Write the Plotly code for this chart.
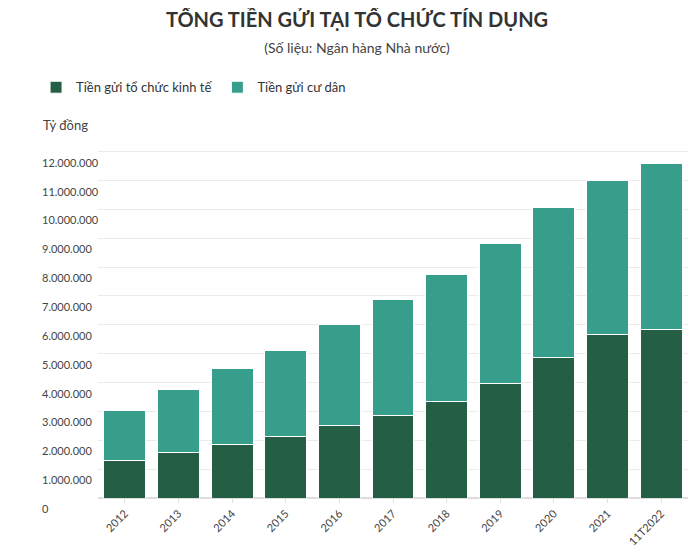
import plotly.graph_objects as go

years = ["2012", "2013", "2014", "2015", "2016", "2017", "2018", "2019", "2020", "2021", "11T2022"]
to_chuc = [1300000, 1570000, 1870000, 2130000, 2500000, 2870000, 3330000, 3970000, 4870000, 5670000, 5830000]
tong = [3030000, 3770000, 4470000, 5100000, 6000000, 6870000, 7730000, 8830000, 10070000, 11000000, 11600000]
dan_cu = [t - o for t, o in zip(tong, to_chuc)]
tick_vals = list(range(0, 12000001, 1000000))

fig = go.Figure()
fig.add_trace(go.Bar(x=years, y=to_chuc, name="Tiền gửi tổ chức kinh tế",
                     marker=dict(color="#235e45", line=dict(color="white", width=1))))
fig.add_trace(go.Bar(x=years, y=dan_cu, name="Tiền gửi cư dân",
                     marker=dict(color="#379e8c", line=dict(color="white", width=1))))

for v in tick_vals:
    fig.add_annotation(x=0, xref="paper", xanchor="left", y=v, yref="y", yanchor="top",
                       xshift=-58, yshift=-2,
                       text="0" if v == 0 else f"{v:,}".replace(",", "."),
                       showarrow=False, font=dict(size=11, color="#444"))

fig.add_annotation(x=-0.097, xref="paper", y=1.052, yref="paper", yanchor="middle", xanchor="left",
                   text="Tỷ đồng", showarrow=False, font=dict(size=13, color="#444"))

fig.update_layout(
    width=698, height=552,
    barmode="stack", bargap=0.22,
    font=dict(family="Lato", color="#333"),
    title=dict(text="<b>TỔNG TIỀN GỬI TẠI TỔ CHỨC TÍN DỤNG</b><br><span style='font-size:14px;color:#444'>(Số liệu: Ngân hàng Nhà nước)</span>",
               x=0.5, xanchor="center", y=0.965, yanchor="top", font=dict(size=20, color="#333")),
    legend=dict(orientation="h", x=-0.105, xanchor="left", y=1.157, yanchor="middle",
                font=dict(size=13, color="#333"), traceorder="normal"),
    plot_bgcolor="white", paper_bgcolor="white",
    margin=dict(l=90, r=18, t=135, b=54),
    xaxis=dict(tickangle=-45, tickfont=dict(size=11, color="#444"), showline=False,
               ticks="outside", ticklen=4, tickcolor="#ddd"),
    yaxis=dict(range=[0, 12300000], tickvals=tick_vals, showticklabels=False,
               gridcolor="#ebebeb", zeroline=True, zerolinecolor="#ddd"),
)
fig.write_html("out.html")
